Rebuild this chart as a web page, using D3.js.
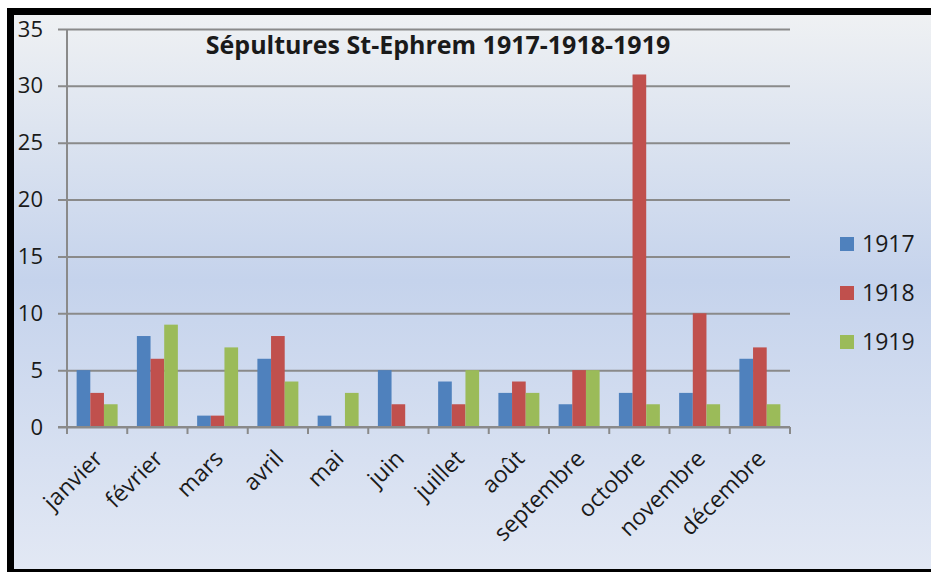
<!DOCTYPE html>
<html>
<head>
<meta charset="utf-8">
<script src="https://d3js.org/d3.v7.min.js"></script>
<style>
  body { margin: 0; background: #fff; }
  text { font-family: "Open Sans", sans-serif; fill: #1a1a1a; }
</style>
</head>
<body>
<script>
const months = ["janvier", "février", "mars", "avril", "mai", "juin", "juillet", "août", "septembre", "octobre", "novembre", "décembre"];
const years = ["1917", "1918", "1919"];
const v1917 = [5, 8, 1, 6, 1, 5, 4, 3, 2, 3, 3, 6];
const v1918 = [3, 6, 1, 8, 0, 2, 2, 4, 5, 31, 10, 7];
const v1919 = [2, 9, 7, 4, 3, 0, 5, 3, 5, 2, 2, 2];
const yTicks = [0, 5, 10, 15, 20, 25, 30, 35];
const colors = ["#4f81bd", "#c0504d", "#9bbb59"];

const series = [v1917, v1918, v1919];
const width = 931, height = 572;

const svg = d3.select("body").append("svg")
    .attr("width", width)
    .attr("height", height);

// background gradient
const grad = svg.append("defs").append("linearGradient")
    .attr("id", "bg").attr("x1", 0).attr("y1", 0).attr("x2", 0).attr("y2", 1);
grad.append("stop").attr("offset", "0%").attr("stop-color", "#eff1f3");
grad.append("stop").attr("offset", "48%").attr("stop-color", "#c5d3ec");
grad.append("stop").attr("offset", "100%").attr("stop-color", "#e2e8f4");

svg.append("rect").attr("x", 7).attr("y", 8).attr("width", width - 7).attr("height", height - 8).attr("fill", "#000");
svg.append("rect").attr("x", 14).attr("y", 15).attr("width", width - 14).attr("height", 554).attr("fill", "url(#bg)");

const x = d3.scaleBand().domain(months).range([67, 790]).paddingInner(0.32).paddingOuter(0.16);
const xs = d3.scaleBand().domain(years).range([0, x.bandwidth()]);
const y = d3.scaleLinear().domain([0, 35]).range([427, 29]);

// gridlines + y labels
const yAxis = svg.append("g")
    .attr("transform", "translate(67,0)")
    .call(d3.axisLeft(y).tickValues(yTicks).tickSize(-723).tickSizeOuter(0).tickPadding(24));
yAxis.select(".domain").remove();
yAxis.selectAll(".tick line").attr("x1", -9).attr("stroke", "#8a8a8a").attr("stroke-width", 2);
yAxis.selectAll(".tick text").attr("font-size", 22).attr("fill", "#1a1a1a").attr("font-family", "Open Sans, sans-serif");

// y axis line
svg.append("line").attr("x1", 67).attr("x2", 67).attr("y1", y(35)).attr("y2", y(0) + 7)
    .attr("stroke", "#8a8a8a").attr("stroke-width", 2);

// bars
const groups = svg.append("g").selectAll("g")
    .data(months)
    .join("g")
    .attr("transform", d => `translate(${x(d)},0)`);

groups.selectAll("rect")
    .data((m, i) => years.map((yr, j) => ({ yr, value: series[j][i], j })))
    .join("rect")
    .attr("x", d => xs(d.yr))
    .attr("width", xs.bandwidth())
    .attr("y", d => y(d.value))
    .attr("height", d => y(0) - y(d.value))
    .attr("fill", d => colors[d.j]);

// x axis
const step = x.step();
const xAxis = svg.append("g").attr("transform", `translate(0,${y(0)})`);
xAxis.append("line").attr("x1", 58).attr("x2", 790).attr("stroke", "#8a8a8a").attr("stroke-width", 2);
xAxis.selectAll(".xt")
    .data(d3.range(months.length + 1))
    .join("line")
    .attr("class", "xt")
    .attr("x1", i => 67 + i * step).attr("x2", i => 67 + i * step)
    .attr("y1", 0).attr("y2", 7)
    .attr("stroke", "#8a8a8a").attr("stroke-width", 2);

xAxis.selectAll(".xl")
    .data(months)
    .join("text")
    .attr("class", "xl")
    .attr("font-size", 23)
    .attr("text-anchor", "end")
    .attr("transform", d => `translate(${x(d) + x.bandwidth() / 2 + 7},${33}) rotate(-45)`)
    .text(d => d);

// title
svg.append("text")
    .attr("x", 438).attr("y", 54)
    .attr("text-anchor", "middle")
    .attr("font-size", 25)
    .attr("font-weight", "bold")
    .text("Sépultures St-Ephrem 1917-1918-1919");

// legend
const legend = svg.append("g").selectAll("g")
    .data(years)
    .join("g")
    .attr("transform", (d, i) => `translate(840,${237 + i * 49})`);
legend.append("rect").attr("width", 14).attr("height", 14).attr("fill", (d, i) => colors[i]);
legend.append("text").attr("x", 22).attr("y", 15).attr("font-size", 23).text(d => d);
</script>
</body>
</html>
